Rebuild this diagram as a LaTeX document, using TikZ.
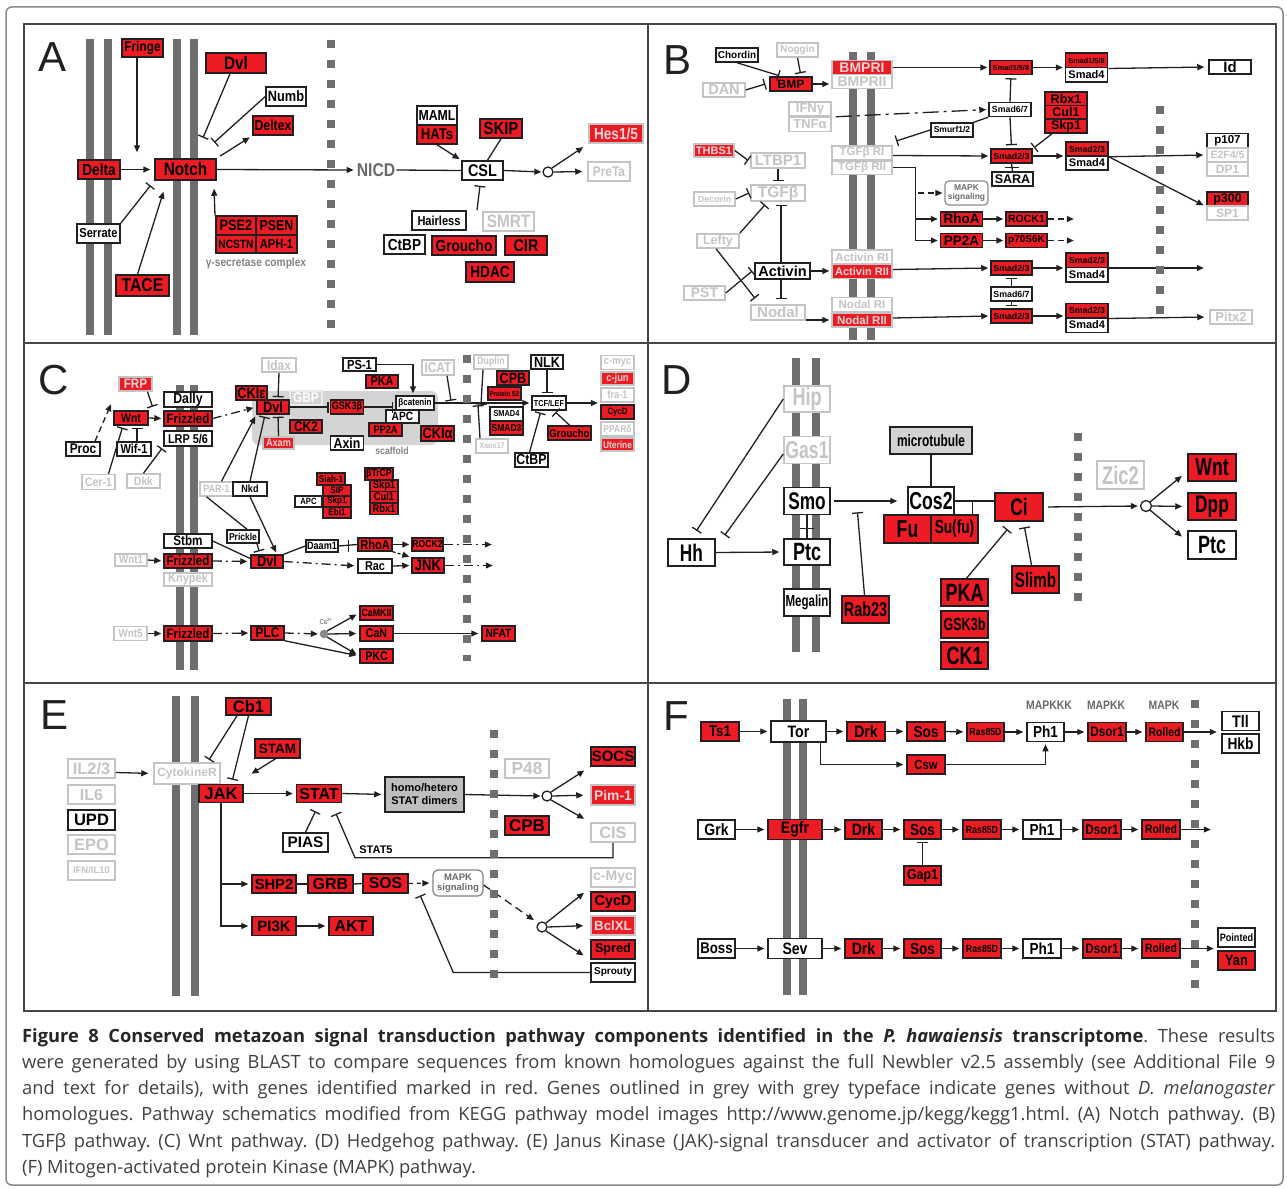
\documentclass[tikz,border=0pt]{standalone}
\usepackage{fontspec}
\setmainfont{Liberation Sans}
\newfontfamily\dfont[FakeStretch=0.85]{Liberation Sans}
\newfontfamily\nfont[FakeStretch=0.72]{Liberation Sans}
\newfontfamily\capfont{Open Sans}
\usetikzlibrary{arrows.meta}

\definecolor{kred}{RGB}{237,28,36}
\definecolor{bdark}{RGB}{35,31,32}
\definecolor{lgrey}{RGB}{196,196,196}
\definecolor{pgrey}{RGB}{222,214,214}
\definecolor{mgrey}{RGB}{110,110,112}
\definecolor{ngrey}{RGB}{105,105,108}
\definecolor{dgrey}{RGB}{130,130,132}
\definecolor{sgrey}{RGB}{212,212,213}
\definecolor{mtgrey}{RGB}{209,211,212}
\definecolor{dmgrey}{RGB}{188,190,192}
\definecolor{pframe}{RGB}{70,70,72}
\definecolor{captxt}{RGB}{64,64,66}

\tikzset{
  bx/.style 2 args={minimum width=#1pt, minimum height=#2pt, inner sep=0pt},
  fs/.style={font=\dfont\bfseries\fontsize{#1}{#1}\selectfont},
  wfs/.style={font=\bfseries\fontsize{#1}{#1}\selectfont},
  nfs/.style={font=\nfont\bfseries\fontsize{#1}{#1}\selectfont},
  rd/.style={draw=bdark, fill=kred, text=black, line width=1.5pt},
  wt/.style={draw=bdark, fill=white, text=black, line width=1.5pt},
  gy/.style={draw=lgrey, fill=white, text=lgrey, line width=1.5pt},
  rg/.style={draw=lgrey, fill=kred, text=pgrey, line width=1.5pt},
  knot/.style={circle, draw=bdark, fill=white, line width=1.3pt, minimum size=10pt, inner sep=0pt},
  link/.style={draw=bdark, line width=1.3pt},
  act/.style={link, ->},
  inh/.style={link, -{Bar[width=11pt]}},
  dsh/.style={dash pattern=on 6pt off 4pt},
  dshdot/.style={dash pattern=on 9pt off 4pt on 2pt off 4pt},
  memb/.style={draw=mgrey, line width=8pt},
  dmemb/.style={draw=mgrey, line width=8pt, dash pattern=on 8pt off 12pt},
  plabel/.style={font=\fontsize{42}{42}\selectfont, text=bdark, anchor=north west, inner sep=0pt},
}

\begin{document}
\begin{tikzpicture}[x=1pt, y=-1pt, >={Triangle[length=7pt,width=6pt]}]
\useasboundingbox (0,0) rectangle (1287,1188);

%frames
\draw[draw=lgrey!70!black, line width=1.5pt, rounded corners=6pt] (6,7) rectangle (1283,1185);
\draw[draw=pframe, line width=2pt] (24,24) rectangle (1276,1011);
\draw[draw=pframe, line width=2pt] (648,24) -- (648,1011);
\draw[draw=pframe, line width=2pt] (24,343) -- (1276,343) (24,683) -- (1276,683);

%membranes
\foreach \x in {90,107.5,177,194} \draw[memb] (\x,39) -- (\x,335);
\foreach \x in {853,871} \draw[memb] (\x,52) -- (\x,340);
\foreach \x in {180,194} \draw[memb] (\x,385) -- (\x,670);
\foreach \x in {796,816} \draw[memb] (\x,358) -- (\x,652);
\foreach \x in {176,195} \draw[memb] (\x,696) -- (\x,996);
\foreach \x in {787,803} \draw[memb] (\x,699) -- (\x,995);

%%%% A: Notch
\node[plabel] (labA) at (38,42) {A};
\node[rd,fs=14,bx={41}{18}] (fringe) at (142.5,48) {Fringe};
\node[rd,fs=18,bx={60}{20}] (dvlA) at (236,63) {Dvl};
\node[wt,fs=15,bx={40}{19}] (numb) at (286,96.5) {Numb};
\node[rd,fs=14.5,bx={40}{19}] (deltex) at (273,125.5) {Deltex};
\node[rd,fs=16,bx={42}{19}] (delta) at (99,169.5) {Delta};
\node[rd,fs=18,bx={61}{21}] (notch) at (185.5,169.5) {Notch};
\node[wt,fs=13,bx={43}{19}] (serrate) at (98.5,233.5) {Serrate};
\node[rd,fs=18.5,bx={53}{21}] (tace) at (142.5,285.5) {TACE};
\node[rd,fs=15,bx={40}{19}] (pse2) at (236,225.5) {PSE2};
\node[rd,fs=14.5,bx={41}{19}] (psen) at (276.5,225.5) {PSEN};
\node[rd,fs=12,bx={40}{18}] (ncstn) at (236,244) {NCSTN};
\node[rd,fs=13,bx={41}{18}] (aph) at (276.5,244) {APH-1};
\node[fs=12, text=dgrey] (gsec) at (256,263) {γ-secretase complex};
\node[fs=18.5, text=ngrey, inner sep=1pt] (nicd) at (376,170) {NICD};
\node[wt,fs=14.5,bx={40}{19}] (maml) at (437,115.5) {MAML};
\node[rd,fs=15.5,bx={40}{19}] (hats) at (437,134.5) {HATs};
\node[rd,fs=17.5,bx={42}{19}] (skip) at (501,128.5) {SKIP};
\node[wt,fs=17,bx={41}{19}] (csl) at (482.5,170.5) {CSL};
\node[knot] (knotA) at (548,172) {};
\node[rg,fs=16,bx={54}{19}] (hes) at (616,133.5) {Hes1/5};
\node[gy,fs=14,bx={42}{19}] (preta) at (609,171.5) {PreTa};
\node[wt,fs=13,bx={54}{19}] (hairless) at (439,220.5) {Hairless};
\node[gy,fs=18,bx={51}{19}] (smrt) at (508.5,221.5) {SMRT};
\node[wt,fs=16,bx={41}{19}] (ctbpA) at (404.5,244.5) {CtBP};
\node[rd,fs=16,bx={64}{19}] (grouchoA) at (464,245.5) {Groucho};
\node[rd,fs=17,bx={42}{19}] (cir) at (526,245.5) {CIR};
\node[rd,fs=16,bx={48}{20}] (hdac) at (490,272) {HDAC};

\draw[act, shorten >=6pt] ([xshift=-5.5pt]fringe.south) -- ([xshift=-48.5pt]notch.north);
\draw[act, shorten >=4pt] (delta.east) -- (notch.west);
\draw[inh, shorten >=6pt] (serrate.north east) -- (notch.south west);
\draw[act] ([xshift=-5pt]tace.north) -- ([xshift=-22pt,yshift=-11pt]notch.south);
\draw[act, shorten >=8pt] ([xshift=-21pt]pse2.north) -- ([xshift=-3pt]notch.south east);
\draw[inh] ([xshift=-6pt]dvlA.south) -- ++(-27,64);
\draw[inh] (numb.west) -- ++(-51,46);
\draw[act, shorten <=4pt, shorten >=3pt] (notch.north east) -- (deltex.south west);
\draw[act, shorten >=2pt] (notch.east) -- (nicd.west);
\draw[link] (nicd.east) -- (csl.west);
\draw[act, shorten >=2pt] (hats.south) -- (csl.north west);
\draw[link] (skip.south) -- ([xshift=5pt]csl.north);
\draw[inh] ([xshift=38pt]hairless.north) -- ([xshift=-2.5pt,yshift=-5pt]csl.south);
\draw[act, shorten >=1pt] (csl.east) -- (knotA.west);
\draw[act, shorten >=6pt] (knotA.north east) -- (hes.south west);
\draw[act, shorten >=5pt] (knotA.east) -- (preta.west);

%%%% B: TGF-beta
\node[plabel] (labB) at (663,45) {B};
\node[wt,wfs=10,bx={42}{14}] (chordin) at (737,55) {Chordin};
\node[gy,wfs=10,bx={41}{14}] (noggin) at (797.5,50) {Noggin};
\node[rd,wfs=12,bx={42}{14}] (bmp) at (791,84) {BMP};
\node[gy,wfs=14.5,bx={42}{14}] (dan) at (724,90) {DAN};
\node[rg,wfs=14,bx={60}{14}] (bmpri) at (862,67.5) {BMPRI};
\node[gy,wfs=14,bx={60}{14}] (bmprii) at (862,81.5) {BMPRII};
\node[gy,wfs=13,bx={42}{14}] (ifng) at (810,109) {IFNγ};
\node[gy,wfs=13,bx={42}{14}] (tnfa) at (810,124.5) {TNFα};
\node[rg,wfs=11,bx={40}{13}] (thbs) at (714,150.5) {THBS1};
\node[gy,wfs=15,bx={54}{15}] (ltbp) at (778,160.5) {LTBP1};
\node[gy,wfs=15.5,bx={54}{16}] (tgfb) at (778,193) {TGFβ};
\node[gy,wfs=9,bx={41}{14}] (decorin) at (714.5,199) {Decorin};
\node[gy,wfs=12.5,bx={42}{14}] (lefty) at (718,241) {Lefty};
\node[wt,wfs=14.5,bx={55}{16}] (activin) at (782.5,271) {Activin};
\node[gy,wfs=14,bx={41}{14}] (pst) at (704.5,293) {PST};
\node[gy,wfs=15,bx={54}{15}] (nodal) at (778,312.5) {Nodal};
\node[gy,wfs=11.5,bx={60}{13.5}] (tgfri) at (862,152.5) {TGFβ RI};
\node[gy,wfs=11.5,bx={60}{13.5}] (tgfrii) at (862,167.5) {TGFβ RII};
\node[gy,wfs=11.5,bx={60}{14}] (actri) at (862,257) {Activin RI};
\node[rg,wfs=11,bx={60}{14}] (actrii) at (862,271.5) {Activin RII};
\node[gy,wfs=11.5,bx={60}{14}] (nodri) at (862,304.5) {Nodal RI};
\node[rg,wfs=11.5,bx={60}{14}] (nodrii) at (862,320) {Nodal RII};
\node[draw=lgrey!70!black, rounded corners=4pt, text=ngrey, wfs=8.5, align=center, bx={43}{24}, line width=1.2pt] (mapkB) at (966.5,193) {MAPK\\[1pt]signaling};
\node[rd,wfs=13.5,bx={42}{14}] (rhoaB) at (961.5,219) {RhoA};
\node[rd,wfs=13.5,bx={42}{14}] (pp2aB) at (961.5,240.5) {PP2A};
\node[rd,wfs=7.3,bx={42}{14}] (smad158) at (1011,67.5) {Smad1/5/8};
\node[rd,wfs=7.3,bx={42}{14.5}] (smad158c) at (1086.5,60.5) {Smad1/5/8};
\node[wt,wfs=11,bx={42}{14.5}] (smad4a) at (1086.5,75) {Smad4};
\node[wt,wfs=15,bx={42}{14}] (idB) at (1230,67) {Id};
\node[wt,wfs=8.8,bx={42}{14}] (smad67a) at (1010,109.5) {Smad6/7};
\node[rd,wfs=12.5,bx={42}{14}] (rbx) at (1066,99) {Rbx1};
\node[rd,wfs=12.5,bx={42}{13.5}] (cul) at (1066,112.5) {Cul1};
\node[rd,wfs=12.5,bx={42}{14}] (skp) at (1066,126) {Skp1};
\node[wt,wfs=8.5,bx={42}{14}] (smurf) at (952,130) {Smurf1/2};
\node[rd,wfs=8.7,bx={41}{14}] (smad23a) at (1011.5,156) {Smad2/3};
\node[wt,wfs=12.5,bx={41}{14}] (sara) at (1012.5,179) {SARA};
\node[rd,wfs=8.7,bx={42}{14}] (smad23ac) at (1087,149) {Smad2/3};
\node[wt,wfs=11,bx={42}{14}] (smad4b) at (1087,163) {Smad4};
\node[wt,wfs=11.5,bx={41}{14}] (p107) at (1227.5,140.5) {p107};
\node[gy,wfs=10.5,bx={41}{14}] (e2f) at (1227.5,155) {E2F4/5};
\node[gy,wfs=12,bx={41}{14}] (dp1) at (1227.5,169) {DP1};
\node[rd,wfs=12.5,bx={41}{14}] (p300) at (1227.5,199) {p300};
\node[gy,wfs=12,bx={41}{14}] (sp1) at (1227.5,213) {SP1};
\node[rd,wfs=10.5,bx={41}{14}] (rock1) at (1026.5,219) {ROCK1};
\node[rd,wfs=10,bx={41}{14}] (p70) at (1026.5,240.5) {p70S6K};
\node[rd,wfs=8.7,bx={41}{14}] (smad23b) at (1011.5,268) {Smad2/3};
\node[rd,wfs=8.7,bx={42}{14.5}] (smad23bc) at (1087,260) {Smad2/3};
\node[wt,wfs=11,bx={42}{14.5}] (smad4c) at (1087,274.5) {Smad4};
\node[wt,wfs=8.8,bx={41}{14}] (smad67b) at (1011.5,294) {Smad6/7};
\node[rd,wfs=8.7,bx={41}{14}] (smad23d) at (1011.5,316) {Smad2/3};
\node[rd,wfs=8.7,bx={42}{14.5}] (smad23dc) at (1087,310.5) {Smad2/3};
\node[wt,wfs=11,bx={42}{14.5}] (smad4d) at (1087,325) {Smad4};
\node[gy,wfs=13,bx={42}{14}] (pitx) at (1231,317) {Pitx2};

\draw[inh, shorten >=2pt] (chordin.south) -- ([xshift=-10pt]bmp.north);
\draw[inh, shorten >=3pt] (noggin.south) -- ([xshift=10pt]bmp.north);
\draw[inh] (dan.east) -- ([xshift=-4pt]bmp.west);
\draw[act, shorten >=2pt] (bmp.east) -- (bmp.east -| bmprii.west);
\draw[act, shorten >=2pt] (bmpri.east) -- (smad158.west);
\draw[act, shorten >=2pt] (smad158.east) -- (smad158.east -| smad4a.west);
\draw[act, shorten >=4pt] (smad158c.south east) -- (idB.west);
\draw[act, dash pattern=on 16pt off 5pt on 3pt off 5pt, shorten >=2pt] ([xshift=4pt]ifng.south east) -- (smad67a.west);
\draw[inh, shorten >=3pt] (smad67a.north) -- (smad158.south);
\draw[inh, shorten >=3pt] (smad67a.south) -- (smad23a.north);
\draw[link] (smurf.north east) -- (smad67a.south west);
\draw[inh] (smurf.west) -- ++(-34,11);
\draw[inh] ([xshift=-14pt]skp.south) -- ++(-18,14);
\draw[act, shorten >=2pt] ([yshift=-3pt]tgfri.east) -- (smad23a.west);
\draw[act, shorten >=2pt] (smad23a.east) -- (smad23a.east -| smad23ac.west);
\draw[link] (smad23a.south) -- (sara.north);
\draw[link] ([xshift=-7pt,yshift=-4pt]smad23a.south) -- ++(14,0);
\draw[act, shorten >=3pt] (smad23ac.south east) -- (e2f.west);
\draw[act, shorten >=3pt] (smad23ac.south east) -- (p300.south west);
\draw[act, shorten >=2pt] (tgfrii.east) -| ([xshift=-24pt]pp2aB.west) -- (pp2aB.west);
\draw[act, shorten >=2pt] ([xshift=-24pt]rhoaB.west) -- (rhoaB.west);
\draw[act, dsh, shorten >=2pt] ([xshift=-26pt]mapkB.west) -- (mapkB.west);
\draw[act, shorten >=2pt] (rhoaB.east) -- (rock1.west);
\draw[act, dsh] (rock1.east) -- ++(26,0);
\draw[act, shorten >=2pt] (pp2aB.east) -- (p70.west);
\draw[act, dsh] (p70.east) -- ++(26,0);
\draw[act, shorten >=2pt] ([yshift=2pt]actrii.east) -- (smad23b.west);
\draw[act, shorten >=2pt] (smad23b.east) -- (smad23b.east -| smad4c.west);
\draw[act] (smad23bc.south east) -- ++(95,0);
\draw[inh, shorten >=2pt] (smad67b.north) -- (smad23b.south);
\draw[inh, shorten >=2pt] (smad67b.south) -- (smad23d.north);
\draw[act, shorten >=2pt] ([yshift=2pt]nodrii.east) -- (smad23d.west);
\draw[act, shorten >=2pt] (smad23d.east) -- (smad23d.east -| smad23dc.west);
\draw[act, shorten >=5pt] (smad23dc.south east) -- (pitx.west);
\draw[act, shorten >=2pt] ([yshift=-7.5pt]nodal.east) -- (nodrii.west);
\draw[act, shorten >=2pt] (activin.east) -- (activin.east -| actrii.west);
\draw[inh] (thbs.east) -- ([xshift=-2pt]ltbp.west);
\draw[inh, shorten >=3pt] (ltbp.south) -- (tgfb.north);
\draw[inh] (decorin.east) -- ([xshift=-1pt]tgfb.west);
\draw[inh] (lefty.north east) -- ([xshift=-13pt,yshift=-3pt]tgfb.south);
\draw[inh] ([xshift=-1.5pt]activin.north) -- ([xshift=3pt,yshift=-3pt]tgfb.south);
\draw[inh, shorten >=5pt] ([xshift=-1.5pt]activin.south) -- ([xshift=3pt]nodal.north);
\draw[inh] ([xshift=-2pt]lefty.south) -- ([xshift=-23pt,yshift=6pt]nodal.north);
\draw[inh] (pst.east) -- ([xshift=-2pt]activin.west);

%%%% C: Wnt
\node[plabel] (labC) at (38,365) {C};
\fill[sgrey, rounded corners=7pt] (252,391) rectangle (438,445);
\node[fs=10.2, text=dgrey] (scaf) at (392,451) {scaffold};
\node[rg,fs=13.7,bx={33}{14}] (frp) at (135.5,384) {FRP};
\node[rd,fs=12.3,bx={34}{14}] (wntC) at (131,418) {Wnt};
\node[wt,fs=14.5,bx={48}{15}] (dally) at (188,399.5) {Dally};
\node[rd,fs=13.5,bx={48}{15}] (fzd1) at (188,418.5) {Frizzled};
\node[wt,fs=12.8,bx={48}{15}] (lrp) at (188,438.5) {LRP 5/6};
\node[wt,fs=14,bx={34}{14}] (proc) at (83,449) {Proc};
\node[wt,fs=13,bx={34}{14}] (wif) at (134,449) {Wif-1};
\node[gy,fs=12.3,bx={33}{15}] (cer) at (98.5,482) {Cer-1};
\node[gy,fs=12,bx={33}{14}] (dkk) at (143.5,481) {Dkk};
\node[rd,fs=15,bx={31}{14}] (ckie) at (251.5,393) {CKIε};
\node[gy,fs=14,bx={34}{14}] (idax) at (279,365) {Idax};
\node[draw=white!92!black, fill=sgrey, text=white, line width=1.5pt, fs=14, bx={32}{14}] (gbp) at (306,398) {GBP};
\node[rd,fs=15,bx={32}{14}] (dvlC) at (273,407) {Dvl};
\node[rd,fs=14,bx={32}{13}] (ck2) at (306,426.5) {CK2};
\node[rg,fs=10.8,bx={31}{12}] (axam) at (278.5,443) {Axam};
\node[rd,fs=10.7,bx={33}{14}] (gsk) at (347,407) {GSK3β};
\node[wt,fs=9.5,bx={38}{14}] (bcat) at (415,403) {βcatenin};
\node[wt,fs=12,bx={33}{13}] (apcC) at (402.5,416.5) {APC};
\node[rd,fs=10.8,bx={33}{13}] (pp2aC) at (385.5,429.5) {PP2A};
\node[rd,fs=15,bx={33}{15}] (ckia) at (437.5,433.5) {CKIα};
\node[wt,fs=14.5,bx={33}{14}] (axin) at (347,443) {Axin};
\node[wt,fs=13.2,bx={33}{13}] (ps1) at (359.5,364.5) {PS-1};
\node[rd,fs=12.8,bx={32}{13}] (pkaC) at (382,381.5) {PKA};
\node[gy,fs=14,bx={32}{15}] (icat) at (438,367.5) {ICAT};
\node[gy,fs=10.3,bx={34}{14}] (duplin) at (491,362) {Duplin};
\node[rd,fs=14.8,bx={32}{14}] (cpbC) at (513,378) {CPB};
\node[rd,fs=7,bx={33}{13}] (ps2) at (504.5,393.5) {Protein S2};
\node[wt,fs=8.7,bx={33}{14}] (smad4C) at (506.5,414) {SMAD4};
\node[rd,fs=10,bx={33}{14}] (smad3C) at (506.5,428) {SMAD3};
\node[gy,fs=8.4,bx={32}{14}] (xsox) at (492,446) {Xsox17};
\node[wt,fs=14.8,bx={32}{14}] (nlk) at (547,362) {NLK};
\node[wt,fs=8.6,bx={34}{14}] (tcf) at (549,403) {TCF/LEF};
\node[rd,fs=11.3,bx={43}{14}] (grouchoC) at (569.5,433) {Groucho};
\node[wt,fs=14.5,bx={33}{14}] (ctbpC) at (531.5,460) {CtBP};
\node[gy,fs=11,bx={33}{14}] (cmyc) at (617.5,362.5) {c-myc};
\node[rg,fs=11,bx={33}{13}] (cjun) at (617.5,378.5) {c-jun};
\node[gy,fs=10.9,bx={33}{14}] (fra) at (617.5,395) {fra-1};
\node[rd,fs=9.2,bx={33}{14}] (cycdC) at (617.5,412) {CycD};
\node[gy,fs=10,bx={33}{14}] (ppar) at (617.5,429) {PPARδ};
\node[rg,fs=9.9,bx={33}{13}] (uterine) at (617.5,444.5) {Uterine};
\node[rd,fs=9.5,bx={28}{12}] (siah) at (331,479) {Siah-1};
\node[rd,fs=9.5,bx={28}{11}] (sip) at (337,490.5) {SIP};
\node[rd,fs=9.5,bx={28}{11}] (skpC) at (337,501.5) {Skp1};
\node[rd,fs=9.5,bx={28}{11}] (ebi) at (337,512.5) {Ebi1};
\node[wt,fs=9,bx={27}{11}] (apcC2) at (308.5,501.5) {APC};
\node[rd,fs=10.2,bx={28}{12}] (btrcp) at (379,474) {βTrCP};
\node[rd,fs=11,bx={28}{11.5}] (skpC2) at (384,485.5) {Skp1};
\node[rd,fs=11,bx={28}{11.5}] (culC) at (384,497) {Cul1};
\node[rd,fs=11,bx={28}{11.5}] (rbxC) at (384,508.5) {Rbx1};
\node[gy,fs=10.6,bx={33}{14}] (par1) at (216.5,489) {PAR-1};
\node[wt,fs=10.6,bx={34}{14}] (nkd) at (250,489) {Nkd};
\node[wt,fs=10,bx={32}{13}] (prickle) at (243,536.5) {Prickle};
\node[wt,fs=13.8,bx={48}{14}] (stbm) at (188,541) {Stbm};
\node[rd,fs=13.5,bx={48}{14}] (fzd2) at (188,561) {Frizzled};
\node[gy,fs=13,bx={48}{13}] (knypek) at (188,579.5) {Knypek};
\node[gy,fs=11.5,bx={32}{12}] (wnt1) at (131,560) {Wnt1};
\node[rd,fs=15,bx={32}{13}] (dvlC2) at (267,561.5) {Dvl};
\node[wt,fs=10.7,bx={32}{12}] (daam) at (322,546) {Daam1};
\node[rd,fs=13,bx={34}{13}] (rhoaC) at (375,544.5) {RhoA};
\node[rd,fs=10.1,bx={31}{13}] (rock2) at (427.5,544.5) {ROCK2};
\node[wt,fs=12.8,bx={34}{14}] (rac) at (375,566) {Rac};
\node[rd,fs=15.3,bx={32}{15}] (jnk) at (428,565.5) {JNK};
\node[gy,fs=11.5,bx={33}{14}] (wnt5) at (130.5,633.5) {Wnt5};
\node[rd,fs=13.5,bx={48}{15}] (fzd3) at (188,633.5) {Frizzled};
\node[rd,fs=14,bx={33}{14}] (plc) at (267.5,633) {PLC};
\node[circle, fill=lgrey!70!black, draw=dgrey, minimum size=8pt, inner sep=0pt] (ca) at (324,634) {};
\node[text=dgrey, fs=7, inner sep=0pt] (calab) at (326,621) {Ca\textsuperscript{2+}};
\node[rd,fs=10.4,bx={33}{14}] (camk) at (376.5,613) {CaMKII};
\node[rd,fs=12.4,bx={33}{15}] (can) at (376.5,633.5) {CaN};
\node[rd,fs=12.5,bx={33}{14}] (pkc) at (376.5,656) {PKC};
\node[rd,fs=12,bx={33}{15}] (nfat) at (498.5,633.5) {NFAT};

\draw[inh] ([xshift=12pt]frp.south) -- ++(5,15);
\draw[act, shorten >=2pt] (wntC.east) -- (fzd1.west);
\draw[act, dsh] ([xshift=12pt]proc.north) -- ++(16,-37);
\draw[inh, shorten >=2pt] ([xshift=3pt]wif.north) -- ([xshift=6pt]wntC.south);
\draw[inh, shorten >=2pt] ([xshift=10pt]cer.north) -- ([xshift=-8pt]wntC.south);
\draw[inh, shorten >=2pt] (dkk.north) -- (lrp.south west);
\draw[act, dshdot, shorten >=3pt] (fzd1.east) -- (dvlC.west);
\draw[inh, shorten >=2pt] (idax.south) -- ([xshift=5pt]dvlC.north);
\draw[inh, shorten >=2pt] (axam.north) -- ([xshift=5pt]dvlC.south);
\draw[act, shorten >=2pt] ([xshift=5pt]par1.north) -- (dvlC.south west);
\draw[inh, shorten >=2pt] (nkd.north) -- ([xshift=-8pt]dvlC.south);
\draw[act, shorten >=2pt] (nkd.south) -- ([xshift=10pt]dvlC2.north);
\draw[link] ([xshift=-10pt]par1.south) -- ([xshift=4pt]prickle.north);
\draw[inh, shorten >=3pt] ([xshift=14pt]prickle.south) -- ([xshift=-7pt]dvlC2.north);
\draw[link] (stbm.east) -- ([yshift=3pt]dvlC2.west);
\draw[act, shorten >=2pt] (wnt1.east) -- (fzd2.west);
\draw[act, dshdot, shorten >=3pt] (fzd2.east) -- (dvlC2.west);
\draw[link] (dvlC2.north east) -- (daam.west);
\draw[link] (daam.east) -- (rhoaC.west);
\draw[link] ([xshift=10pt,yshift=6pt]daam.east) -- ++(0,12);
\draw[act, shorten >=2pt] (rhoaC.east) -- (rock2.west);
\draw[act, dash pattern=on 3pt off 2pt, shorten >=2pt] (rhoaC.south east) -- (jnk.north west);
\draw[act, dshdot] (rock2.east) -- ++(48,0);
\draw[act, dshdot, shorten >=3pt] (dvlC2.east) -- (rac.west);
\draw[act, shorten >=2pt] (rac.east) -- (jnk.west);
\draw[act, dshdot] (jnk.east) -- ++(48,0);
\draw[act, shorten >=2pt] (wnt5.east) -- (fzd3.west);
\draw[act, dshdot, shorten >=2pt] (fzd3.east) -- (plc.west);
\draw[act, dshdot, shorten >=2pt] (plc.east) -- (ca.west);
\draw[act, shorten >=3pt] (plc.south east) -- (pkc.west);
\draw[act, shorten >=3pt] (ca.north east) -- (camk.west);
\draw[act, shorten >=3pt] (ca.east) -- (can.west);
\draw[act, shorten >=3pt] (ca.south east) -- (pkc.west);
\draw[act, shorten >=3pt] (can.east) -- (nfat.west);
\draw[inh, shorten >=1pt] (dvlC.east) -- (gsk.west);
\draw[inh, shorten >=2pt] (gsk.east) -- (gsk.east -| bcat.west);
\draw[act, shorten >=2pt] (ps1.east) -| ([xshift=-2pt]bcat.north);
\draw[act, shorten >=2pt] (bcat.east) -- (tcf.west);
\draw[inh] ([xshift=9pt]icat.south) -- ++(4,25);
\draw[inh] ([xshift=-8pt]duplin.south) -- ++(-2,35);
\draw[inh] ([xshift=-12pt]xsox.north) -- ++(-2,-33);
\draw[inh, shorten >=2pt] (nlk.south) -- ([xshift=-2pt]tcf.north);
\draw[act] (tcf.east) -- ++(31,0);
\draw[inh, shorten >=2pt] ([xshift=-2pt]ctbpC.north) -- ([xshift=-8pt]tcf.south);
\draw[inh, shorten >=2pt] (grouchoC.north) -- ([xshift=5pt]tcf.south);

%%%% D: Hedgehog
\node[plabel] (labD) at (661,365) {D};
\node[gy,nfs=25,bx={46}{26}] (hip) at (807,399) {Hip};
\node[gy,nfs=24.5,bx={46}{27}] (gas) at (807,450) {Gas1};
\node[wt,nfs=24,bx={46}{27}] (smo) at (807,501) {Smo};
\node[wt,nfs=25,bx={46}{26}] (ptcD) at (807,552) {Ptc};
\node[wt,nfs=16,bx={46}{27}] (megalin) at (807,602.5) {Megalin};
\node[wt,nfs=24,bx={47}{27}] (hh) at (691.5,552.5) {Hh};
\node[rd,nfs=20,bx={47}{27}] (rab) at (865.5,609.5) {Rab23};
\node[draw=bdark, fill=mtgrey, line width=1.5pt, nfs=16.5, bx={82}{27}] (micro) at (931,440.5) {microtubule};
\node[wt,nfs=24.5,bx={46}{28}] (cos2) at (931,501) {Cos2};
\node[rd,nfs=24.5,bx={47}{28}] (fu) at (907.5,529) {Fu};
\node[rd,nfs=19,bx={47}{28}] (sufu) at (954.5,529) {Su(fu)};
\node[rd,nfs=24,bx={48}{28}] (ci) at (1019,507) {Ci};
\node[rd,nfs=25,bx={47}{27}] (pkaD) at (964.5,592.5) {PKA};
\node[rd,nfs=17.5,bx={47}{27}] (gsk3b) at (964.5,624.5) {GSK3b};
\node[rd,nfs=25,bx={47}{27}] (ck1) at (964.5,655.5) {CK1};
\node[rd,nfs=21,bx={47}{27}] (slimb) at (1035.5,579.5) {Slimb};
\node[gy,nfs=25.5,bx={47}{28}] (zic) at (1120.5,475) {Zic2};
\node[knot, minimum size=11pt] (knotD) at (1146,506) {};
\node[rd,nfs=24.5,bx={48}{27}] (wntD) at (1212,467.5) {Wnt};
\node[rd,nfs=24,bx={48}{27}] (dpp) at (1212,506.5) {Dpp};
\node[wt,nfs=25,bx={48}{28}] (ptcD2) at (1212,545) {Ptc};

\draw[inh, shorten >=9pt] (hip.west) -- (hh.north);
\draw[inh] ([yshift=-4pt]gas.west) -- ([xshift=9pt,yshift=3pt]hh.north east);
\draw[act, shorten >=4pt] (hh.east) -- (ptcD.west);
\draw[link] (smo.south) -- (ptcD.north);
\draw[link] ([xshift=-7pt,yshift=-13pt]smo.south) -- ++(14,0);
\draw[act, shorten <=3pt, shorten >=10pt] (smo.east) -- (smo.east -| cos2.west);
\draw[inh] ([xshift=-1pt]rab.north) -- ++(-7,-83);
\draw[link] (micro.south) -- (cos2.north);
\draw[link] (cos2.east) -- (cos2.east -| ci.west);
\draw[link] ([xshift=18pt]sufu.north) -- ++(0,-14);
\draw[inh] ([xshift=2pt]pkaD.north) -- ++(41,-49);
\draw[inh] ([xshift=-4pt]slimb.north) -- ++(-7,-38);
\draw[act, shorten <=4pt, shorten >=2pt] (ci.east) -- (knotD.west);
\draw[act, shorten >=7pt] (knotD.north east) -- ([yshift=-4pt]wntD.west);
\draw[act, shorten >=5pt] (knotD.east) -- (dpp.west);
\draw[act, shorten >=7pt] (knotD.south east) -- ([yshift=4pt]ptcD2.west);

%%%% E: JAK/STAT
\node[plabel] (labE) at (40,700) {E};
\node[rd,wfs=16.5,bx={45}{17}] (cb1) at (248.5,706.5) {Cb1};
\node[rd,wfs=13.5,bx={45}{19}] (stam) at (277.5,748.5) {STAM};
\node[gy,wfs=16.4,bx={47}{19}] (il23) at (91.5,768.5) {IL2/3};
\node[gy,wfs=16,bx={47}{19}] (il6) at (91.5,794.5) {IL6};
\node[wt,wfs=16.5,bx={47}{20}] (upd) at (91.5,820) {UPD};
\node[gy,wfs=16.5,bx={47}{19}] (epo) at (91.5,844.5) {EPO};
\node[gy,wfs=9.5,bx={47}{19}] (ifnil) at (91.5,870.5) {IFN/IL10};
\node[gy,wfs=12,bx={66}{21}] (cytr) at (187,773.5) {CytokineR};
\node[rd,wfs=16.7,bx={44}{18}] (jak) at (221,793.5) {JAK};
\node[rd,wfs=16,bx={45}{18}] (stat) at (319,793.5) {STAT};
\node[wt,wfs=15.3,bx={45}{19}] (pias) at (305.5,842.5) {PIAS};
\node[rd,wfs=14.7,bx={44}{18}] (shp2) at (274,884) {SHP2};
\node[rd,wfs=16,bx={45}{18}] (grb) at (330.5,884) {GRB};
\node[rd,wfs=15.8,bx={45}{19}] (sos) at (385.5,883.5) {SOS};
\node[rd,wfs=15,bx={44}{19}] (pi3k) at (274,926) {PI3K};
\node[rd,wfs=16,bx={44}{19}] (akt) at (351,926) {AKT};
\node[draw=bdark, fill=dmgrey, line width=1.5pt, wfs=11, align=center, bx={79}{35}] (dimers) at (424.5,794.5) {homo/hetero\\[2pt]STAT dimers};
\node[gy,wfs=17.4,bx={44}{19}] (p48) at (527,768.5) {P48};
\node[rd,wfs=17,bx={44}{19}] (cpbE) at (527,825.5) {CPB};
\node[knot] (knotE1) at (547,796) {};
\node[rd,wfs=15,bx={44}{19}] (socs) at (613,756.5) {SOCS};
\node[rg,wfs=13.9,bx={44}{20}] (pim) at (613,795) {Pim-1};
\node[gy,wfs=16.4,bx={44}{19}] (cis) at (613,832.5) {CIS};
\node[wfs=11] (stat5) at (376,850) {STAT5};
\node[draw=dgrey, rounded corners=5pt, text=ngrey, line width=1.2pt, wfs=9.5, align=center, bx={50}{26}] (mapkE) at (458,883) {MAPK\\[1pt]signaling};
\node[knot] (knotE2) at (542,927) {};
\node[gy,wfs=14,bx={44}{19}] (cmycE) at (613,877.5) {c-Myc};
\node[rd,wfs=14.3,bx={44}{19}] (cycdE) at (613,901.5) {CycD};
\node[rg,wfs=13.3,bx={44}{19}] (bclxl) at (613,925.5) {BclXL};
\node[rd,wfs=12.7,bx={44}{19}] (spred) at (613,949.5) {Spred};
\node[wt,wfs=10,bx={44}{19}] (sprouty) at (613,972.5) {Sprouty};

\draw[inh] ([xshift=-11.5pt]cb1.south) -- ++(-28,44);
\draw[inh] (cb1.south) -- ++(-16,64);
\draw[act] ([xshift=-2pt]stam.south) -- ++(-24,15);
\draw[act, shorten >=5pt] ([yshift=-4pt]il23.east) -- (cytr.west);
\draw[act, shorten >=3pt] (jak.east) -- (stat.west);
\draw[act, shorten >=3pt] (jak.south) |- (pi3k.west);
\draw[act, shorten >=3pt] (jak.south |- shp2.west) -- (shp2.west);
\draw[link] (shp2.east) -- (grb.west);
\draw[link] (grb.east) -- (sos.west);
\draw[act, shorten >=3pt] (pi3k.east) -- (akt.west);
\draw[act, shorten >=3pt] (stat.east) -- (dimers.west);
\draw[act, shorten >=1pt] (dimers.east) -- (knotE1.west);
\draw[act, shorten >=7pt] (knotE1.north east) -- (socs.south west);
\draw[act, shorten >=7pt] (knotE1.east) -- (pim.west);
\draw[act, shorten >=7pt] (knotE1.south east) -- (cis.north west);
\draw[inh] (cis.south) -- ++(0,15) -- ++(-258,0) -- ++(-19,-44);
\draw[inh] (pias.north) -- ++(10,-21);
\draw[act, dash pattern=on 4pt off 4pt, shorten >=3pt] (sos.east) -- (mapkE.west);
\draw[act, dash pattern=on 8pt off 5pt, shorten >=5pt] ([yshift=-2pt]mapkE.east) -- (knotE2.north west);
\draw[act, shorten >=8pt] (knotE2.north east) -- (cmycE.south west);
\draw[act, shorten >=7pt] (knotE2.east) -- (bclxl.west);
\draw[act, shorten >=8pt] (knotE2.south east) -- (spred.south west);
\draw[inh] (sprouty.west) -- ++(-137,0) -- ++(-33,-77);

%%%% F: MAPK
\node[plabel] (labF) at (663,701) {F};
\node[fs=12.3, text=ngrey] (mk3) at (1049,705) {MAPKKK};
\node[fs=12.2, text=ngrey] (mk2) at (1106,705) {MAPKK};
\node[fs=12.3, text=ngrey] (mk1) at (1164,705) {MAPK};
\node[rd,fs=15.5,bx={38}{19}] (ts1) at (720,731.5) {Ts1};
\node[wt,fs=16.6,bx={55}{21}] (tor) at (798.5,731.5) {Tor};
\node[rd,fs=16.5,bx={38}{19}] (drk1) at (866,731.5) {Drk};
\node[rd,fs=16,bx={38}{19}] (sos1) at (926,731.5) {Sos};
\node[rd,fs=10.3,bx={37}{19}] (ras1) at (985.5,732) {Ras85D};
\node[wt,fs=16,bx={37}{19}] (ph1a) at (1045.5,732) {Ph1};
\node[rd,fs=13.8,bx={38}{19}] (dsor1a) at (1107,732) {Dsor1};
\node[rd,fs=12.2,bx={37}{19}] (rolled1) at (1164.5,732) {Rolled};
\node[wt,fs=16.8,bx={37}{19}] (tll) at (1240.5,721) {Tll};
\node[wt,fs=16.2,bx={37}{19}] (hkb) at (1240.5,743.5) {Hkb};
\node[rd,fs=13.3,bx={38}{19}] (csw) at (926,764.5) {Csw};
\node[wt,fs=16.4,bx={37}{19}] (grk) at (716.5,829.5) {Grk};
\node[rd,fs=16.5,bx={54}{20}] (egfr) at (795,829.5) {Egfr};
\node[wt,fs=15.5,bx={37}{19}] (boss) at (716.5,948.5) {Boss};
\node[wt,fs=16.5,bx={54}{20}] (sev) at (795,948.5) {Sev};
\foreach \r/\y in {2/829.5,3/948.5}{
  \node[rd,fs=16.5,bx={37}{19}] (drk\r) at (863.5,\y) {Drk};
  \node[rd,fs=16,bx={37}{19}] (sos\r) at (922.5,\y) {Sos};
  \node[rd,fs=10.3,bx={38}{19}] (ras\r) at (982,\y) {Ras85D};
  \node[wt,fs=16,bx={38}{19}] (ph1\r) at (1042,\y) {Ph1};
  \node[rd,fs=13.8,bx={38}{19}] (dsor\r) at (1102,\y) {Dsor1};
  \node[rd,fs=12.2,bx={38}{19}] (rolled\r) at (1161,\y) {Rolled};
}
\node[rd,fs=14.5,bx={37}{19}] (gap1) at (922.5,875.5) {Gap1};
\node[wt,fs=10.7,bx={37}{19}] (pointed) at (1236.5,937.5) {Pointed};
\node[rd,fs=15,bx={37}{19}] (yan) at (1236.5,960.5) {Yan};

\foreach \a/\b in {ts1/tor,tor/drk1,drk1/sos1,sos1/ras1,ras1/ph1a,ph1a/dsor1a,dsor1a/rolled1,%
grk/egfr,egfr/drk2,drk2/sos2,sos2/ras2,ras2/ph12,ph12/dsor2,dsor2/rolled2,%
boss/sev,sev/drk3,drk3/sos3,sos3/ras3,ras3/ph13,ph13/dsor3,dsor3/rolled3}
  \draw[act, shorten >=3pt] (\a.east) -- (\b.west);
\draw[act] (rolled1.east) -- ++(33,0);
\draw[act] (rolled2.east) -- ++(30,0);
\draw[act] (rolled3.east) -- ++(33,0);
\draw[act, shorten >=3pt] ([xshift=-6pt]tor.south east) |- (csw.west);
\draw[act, shorten >=2pt] (csw.east) -| (ph1a.south);
\draw[inh, shorten >=2pt] (gap1.north) -- (sos2.south);

%dashed membranes
\draw[dmemb] (331,40) -- (331,335);
\draw[dmemb] (1160,106) -- (1160,322);
\draw[dmemb] (467,355) -- (467,661);
\draw[dmemb] (1077.5,433) -- (1077.5,606);
\draw[dmemb] (493.5,730) -- (493.5,981);
\draw[dmemb] (1194.5,700) -- (1194.5,995);

%caption
\node[anchor=north west, inner sep=0pt, text=captxt,
  font=\capfont\fontsize{18.3}{26.2}\selectfont\frenchspacing] (caption) at (22,1028) {\vbox{%
\hbox to 1253pt{{\bfseries\color{black!85}Figure 8 Conserved metazoan signal transduction pathway components identified in the \textit{P. hawaiensis} transcriptome}. These results}%
\hbox to 1253pt{were generated by using BLAST to compare sequences from known homologues against the full Newbler v2.5 assembly (see Additional File 9}%
\hbox to 1253pt{and text for details), with genes identified marked in red. Genes outlined in grey with grey typeface indicate genes without \textit{D. melanogaster}}%
\hbox to 1253pt{homologues. Pathway schematics modified from KEGG pathway model images http://www.genome.jp/kegg/kegg1.html. (A) Notch pathway. (B)}%
\hbox to 1253pt{TGFβ pathway. (C) Wnt pathway. (D) Hedgehog pathway. (E) Janus Kinase (JAK)-signal transducer and activator of transcription (STAT) pathway.}%
\hbox{(F) Mitogen-activated protein Kinase (MAPK) pathway.}}};
\end{tikzpicture}
\end{document}
